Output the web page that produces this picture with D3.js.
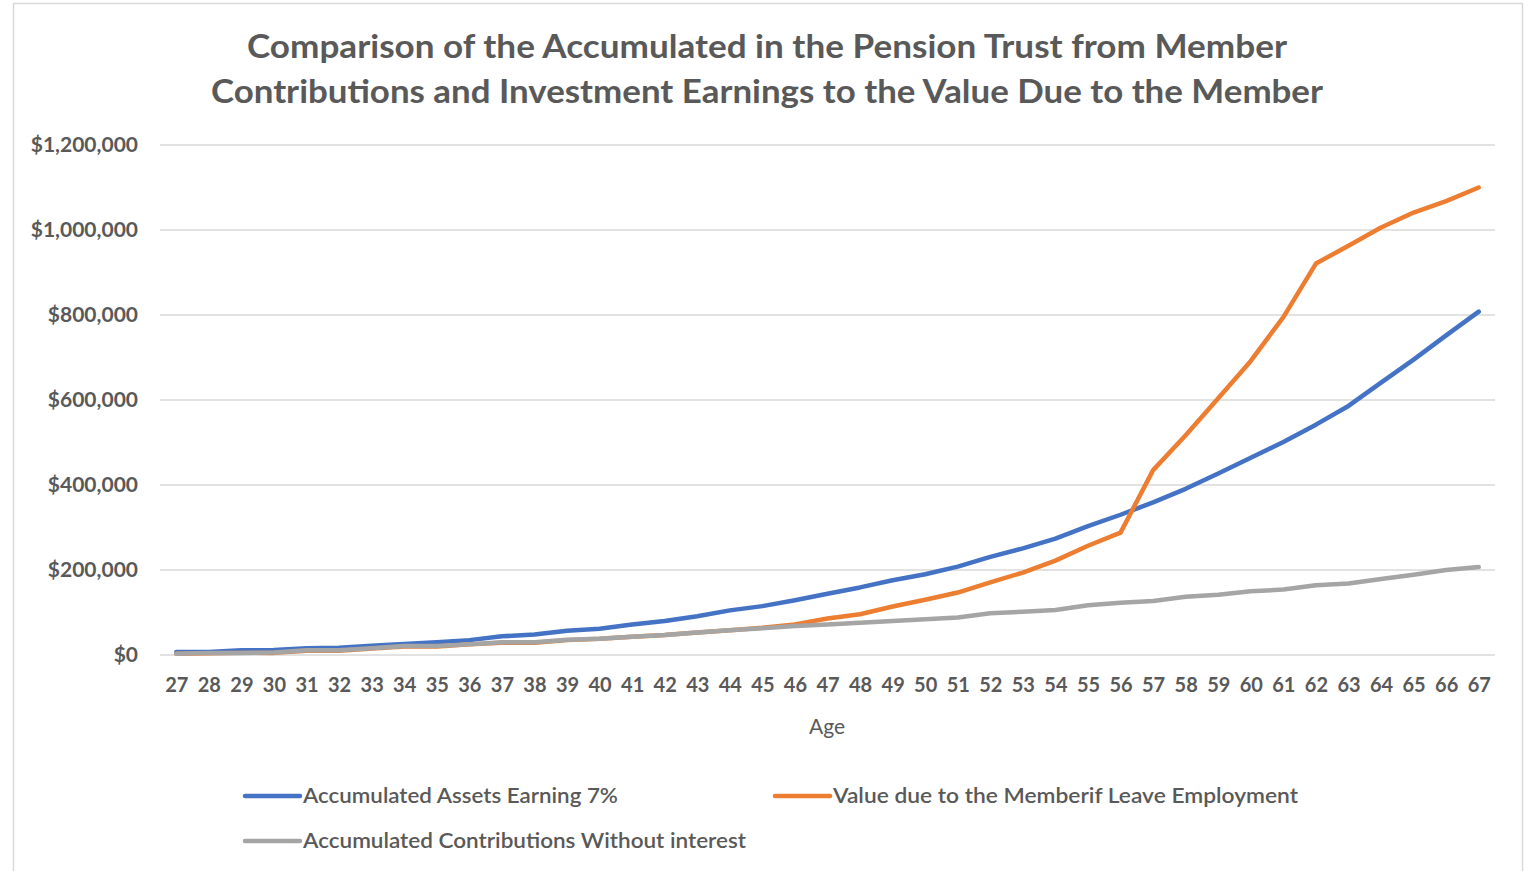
<!DOCTYPE html>
<meta charset="utf-8">
<style>
html, body { margin: 0; padding: 0; background: #fff; }
svg text { font-family: Lato, "Open Sans", sans-serif; fill: #595959; }
.grid line { stroke: #d9d9d9; stroke-width: 1.5; }
.series { fill: none; stroke-width: 4.5; stroke-linejoin: round; stroke-linecap: round; }
</style>
<div id="chart"></div>
<script src="https://cdn.jsdelivr.net/npm/d3@7/dist/d3.min.js"></script>
<script>
// ages along the x axis
var ages = d3.range(27, 68);

// values in thousands of dollars
var assets7 = [7, 7, 11, 12, 16, 17, 22, 26, 30, 35, 44, 48, 57, 62, 72, 80, 91, 105, 115, 129,
  144, 159, 176, 190, 208, 231, 251, 274, 303, 330, 359, 391, 427, 464, 501, 542, 586, 641, 695, 752, 808];
var valueDue = [3, 4, 5, 5, 10, 10, 15, 20, 20, 25, 29, 29, 35, 38, 43, 47, 53, 58, 64, 72,
  86, 96, 114, 130, 147, 171, 194, 222, 257, 288, 435, 517, 604, 692, 795, 921, 963, 1006, 1041, 1068, 1100];
var contribs = [3, 5, 5, 6, 11, 11, 16, 21, 21, 25, 30, 30, 36, 38, 43, 47, 53, 58, 63, 68,
  72, 76, 80, 84, 88, 98, 102, 106, 117, 123, 127, 137, 142, 150, 154, 164, 168, 179, 189, 200, 207];

var yTicks = [0, 200000, 400000, 600000, 800000, 1000000, 1200000];
var titleLines = ["Comparison of the Accumulated in the Pension Trust from Member",
  "Contributions and Investment Earnings to the Value Due to the Member"];

var seriesList = [
  {name: "Accumulated Assets Earning 7%", values: assets7, color: "#4472C4"},
  {name: "Value due to the Memberif Leave Employment", values: valueDue, color: "#ED7D31"},
  {name: "Accumulated Contributions Without interest", values: contribs, color: "#A5A5A5"}
];

var width = 1532, height = 871;
var svg = d3.select("#chart").append("svg")
    .attr("width", width)
    .attr("height", height);

// chart area border
svg.append("rect")
    .attr("x", 13.5).attr("y", 3.5)
    .attr("width", 1509).attr("height", 900)
    .attr("fill", "none").attr("stroke", "#d9d9d9").attr("stroke-width", 1.5);

var plot = {left: 160, right: 1495, top: 145, bottom: 655};

var x = d3.scalePoint()
    .domain(ages)
    .range([plot.left, plot.right])
    .padding(0.5);

var y = d3.scaleLinear()
    .domain([0, 1200000])
    .range([plot.bottom, plot.top]);

// title
svg.append("g").selectAll("text")
    .data(titleLines)
  .enter().append("text")
    .attr("x", 767)
    .attr("y", function(d, i) { return 58 + i * 45; })
    .attr("text-anchor", "middle")
    .attr("textLength", function(d, i) { return i === 0 ? 1040 : 1112; })
    .attr("lengthAdjust", "spacingAndGlyphs")
    .style("font-size", "32px")
    .style("font-weight", "bold")
    .text(function(d) { return d; });

// gridlines
svg.append("g").attr("class", "grid")
  .selectAll("line")
    .data(yTicks)
  .enter().append("line")
    .attr("x1", plot.left).attr("x2", plot.right)
    .attr("y1", function(d) { return y(d); })
    .attr("y2", function(d) { return y(d); });

// y axis labels
var yAxis = d3.axisLeft(y)
    .tickValues(yTicks)
    .tickSize(0)
    .tickPadding(0)
    .tickFormat(function(d) { return "$" + d3.format(",")(d); });

svg.append("g")
    .attr("transform", "translate(138,0)")
    .call(yAxis)
    .call(function(g) { g.select(".domain").remove(); })
    .selectAll("text")
    .style("font-size", "21px")
    .style("font-weight", "bold")
    .style("fill", "#595959");

// x axis labels
var xAxis = d3.axisBottom(x).tickSize(0).tickPadding(0);
svg.append("g")
    .attr("transform", "translate(0,678)")
    .call(xAxis)
    .call(function(g) { g.select(".domain").remove(); })
    .selectAll("text")
    .style("font-size", "20px")
    .style("font-weight", "bold")
    .style("fill", "#595959");

svg.append("text")
    .attr("x", 827).attr("y", 734)
    .attr("text-anchor", "middle")
    .style("font-size", "21px")
    .text("Age");

// lines
var line = d3.line()
    .x(function(d, i) { return x(ages[i]); })
    .y(function(d) { return y(d * 1000); });

svg.append("g").selectAll("path")
    .data(seriesList)
  .enter().append("path")
    .attr("class", "series")
    .attr("stroke", function(d) { return d.color; })
    .attr("d", function(d) { return line(d.values); });

// legend
var legendPos = [{x: 245, y: 796, w: 315}, {x: 775, y: 796, w: 465}, {x: 245, y: 841, w: 443}];
var legend = svg.append("g").selectAll("g")
    .data(seriesList)
  .enter().append("g")
    .attr("transform", function(d, i) { return "translate(" + legendPos[i].x + "," + legendPos[i].y + ")"; });

legend.append("line")
    .attr("x1", 0).attr("x2", 55)
    .attr("stroke", function(d) { return d.color; })
    .attr("stroke-width", 4.5)
    .attr("stroke-linecap", "round");

legend.append("text")
    .attr("x", 58).attr("y", 7)
    .attr("textLength", function(d, i) { return legendPos[i].w; })
    .attr("lengthAdjust", "spacingAndGlyphs")
    .style("font-size", "21px")
    .style("font-weight", "600")
    .text(function(d) { return d.name; });
</script>
